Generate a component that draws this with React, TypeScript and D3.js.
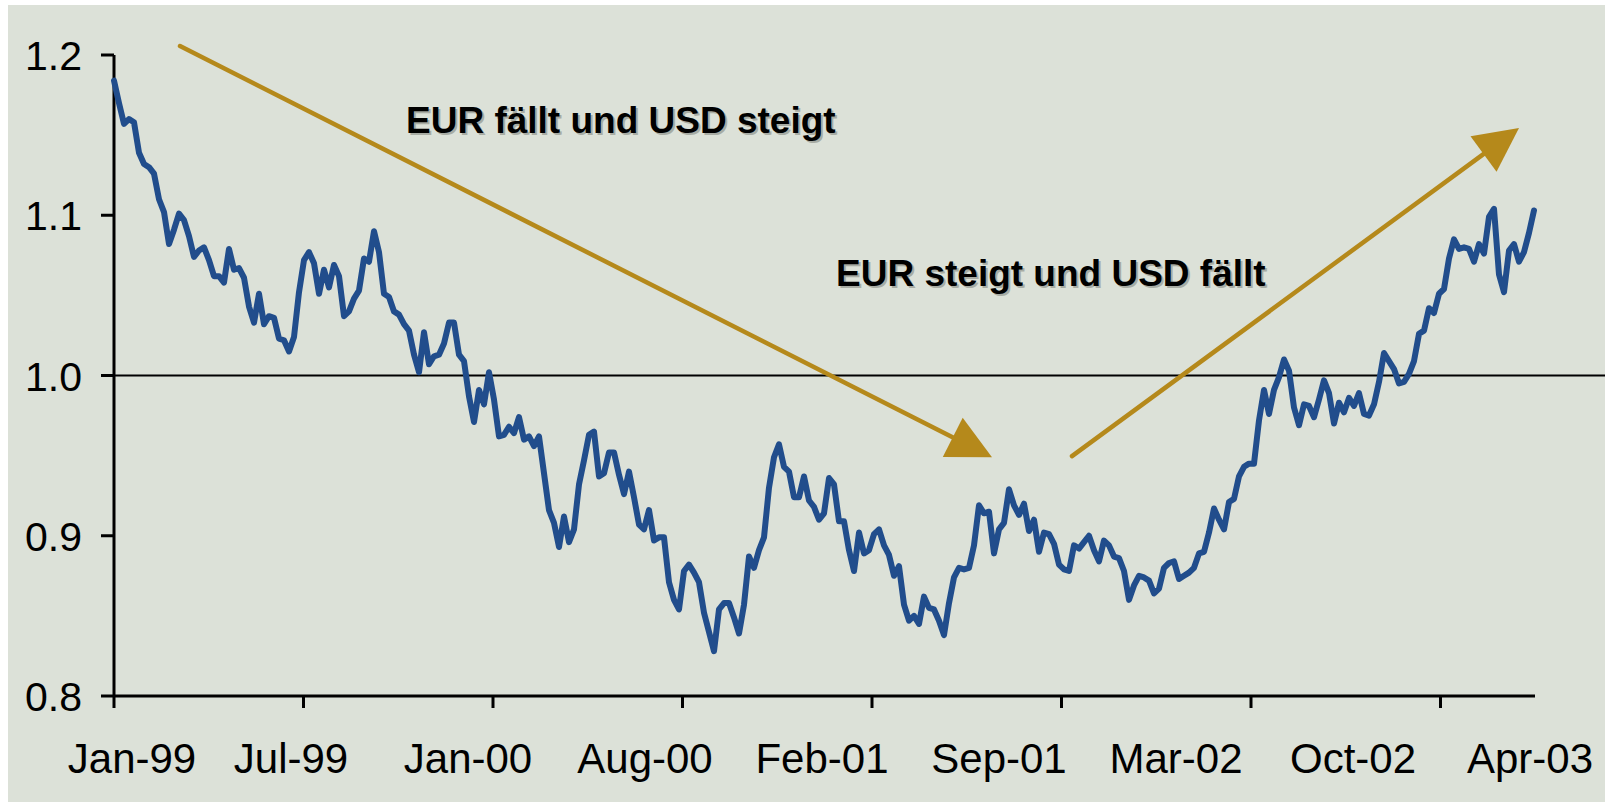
import React from 'react';
import * as d3 from 'd3';

// EUR/USD, sampled evenly from Jan-99 to Apr-03
const rate = [
  1.184, 1.170, 1.157, 1.160, 1.158, 1.139, 1.132, 1.130, 1.126, 1.110,
  1.102, 1.082, 1.091, 1.101, 1.097, 1.087, 1.074, 1.078, 1.080, 1.072,
  1.062, 1.062, 1.058, 1.079, 1.066, 1.067, 1.061, 1.043, 1.033, 1.051,
  1.032, 1.037, 1.036, 1.023, 1.022, 1.015, 1.024, 1.052, 1.072, 1.077,
  1.070, 1.051, 1.066, 1.055, 1.069, 1.062, 1.037, 1.040,
  1.048, 1.053, 1.073, 1.071, 1.090, 1.077, 1.051, 1.049, 1.040, 1.038,
  1.032, 1.028, 1.013, 1.002, 1.027, 1.007, 1.012, 1.013, 1.020, 1.033,
  1.033, 1.013, 1.009, 0.987, 0.971, 0.991, 0.982, 1.002, 0.985, 0.962,
  0.963, 0.968, 0.964, 0.974, 0.960, 0.962, 0.956, 0.962, 0.939, 0.916,
  0.908, 0.893, 0.912, 0.896, 0.904, 0.932, 0.947, 0.963,
  0.965, 0.937, 0.939, 0.952, 0.952, 0.938, 0.926, 0.940, 0.924, 0.907,
  0.904, 0.916, 0.897, 0.899, 0.899, 0.871, 0.860, 0.854, 0.878, 0.882,
  0.877, 0.871, 0.852, 0.840, 0.828, 0.854, 0.858, 0.858, 0.849, 0.839,
  0.857, 0.887, 0.880, 0.891, 0.899, 0.930, 0.949, 0.957, 0.943, 0.940,
  0.924, 0.924, 0.937, 0.922, 0.918, 0.910, 0.914, 0.936,
  0.932, 0.909, 0.909, 0.891, 0.878, 0.902, 0.889, 0.891, 0.901, 0.904,
  0.894, 0.888, 0.875, 0.881, 0.857, 0.847, 0.850, 0.845, 0.862, 0.855,
  0.854, 0.847, 0.838, 0.858, 0.874, 0.880, 0.879, 0.880, 0.894, 0.919,
  0.914, 0.915, 0.889, 0.904, 0.908, 0.929, 0.919, 0.913, 0.920, 0.903,
  0.910, 0.890, 0.902, 0.901, 0.895, 0.882, 0.879,
  0.878, 0.894, 0.892, 0.896, 0.900, 0.891, 0.884, 0.897, 0.894, 0.887,
  0.886, 0.878, 0.860, 0.869, 0.875, 0.874, 0.872, 0.864, 0.867, 0.880,
  0.883, 0.884, 0.873, 0.875, 0.877, 0.880, 0.889, 0.890, 0.902, 0.917,
  0.910, 0.904, 0.921, 0.923, 0.937, 0.943, 0.945, 0.945, 0.972, 0.991,
  0.976, 0.991, 0.999, 1.010, 1.003, 0.980, 0.969, 0.982,
  0.981, 0.974, 0.985, 0.997, 0.989, 0.970, 0.983, 0.977, 0.986, 0.981,
  0.989, 0.976, 0.975, 0.982, 0.996, 1.014, 1.009, 1.004, 0.995, 0.996,
  1.001, 1.009, 1.026, 1.028, 1.042, 1.039, 1.051, 1.054, 1.073, 1.085,
  1.079, 1.080, 1.079, 1.071, 1.082, 1.076, 1.099, 1.104, 1.063, 1.052,
  1.078, 1.082, 1.071, 1.077, 1.089, 1.103,
];

const yTicks = [0.8, 0.9, 1.0, 1.1, 1.2];
const xLabels = ['Jan-99', 'Jul-99', 'Jan-00', 'Aug-00', 'Feb-01', 'Sep-01', 'Mar-02', 'Oct-02', 'Apr-03'];
const tickStep = 37.9; // samples between x tick marks
const refValue = 1.0;

// arrows: [fromIndex, fromValue, toIndex, toValue]
const arrows = [
  [13.2, 1.2056, 175.6, 0.949],
  [191.6, 0.9497, 281, 1.1544],
];
const notes = [
  { text: 'EUR fällt und USD steigt', i: 58.4, v: 1.1513 },
  { text: 'EUR steigt und USD fällt', i: 144.4, v: 1.0558 },
];

const W = 1605, H = 802;
const gold = '#b5891b';
const blue = '#214d8c';
const font = 'Liberation Sans, Arial, sans-serif';

export default function App() {
  const x = d3.scaleLinear().domain([0, rate.length - 1]).range([114, 1534]);
  const y = d3.scaleLinear().domain([0.8, 1.2]).range([696, 55]);
  const labelX = d3.scalePoint<string>().domain(xLabels).range([114, 1530]);

  const line = d3.line<number>()
    .x((d, i) => x(i))
    .y(d => y(d));

  const xTickIdx = d3.range(0, rate.length, tickStep);

  const arrowShapes = arrows.map(([i0, v0, i1, v1]) => {
    const sx = x(i0), sy = y(v0), tx = x(i1), ty = y(v1);
    const len = Math.hypot(tx - sx, ty - sy);
    const ux = (tx - sx) / len, uy = (ty - sy) / len;
    const L = 44, hw = 22;
    const bx = tx - L * ux, by = ty - L * uy;
    const pts = [
      [tx, ty],
      [bx - hw * uy, by + hw * ux],
      [bx + hw * uy, by - hw * ux],
    ];
    return { sx, sy, bx: bx + 2 * ux, by: by + 2 * uy, pts };
  });

  return (
    <div style={{ position: 'absolute', left: 0, top: 0 }}>
      <svg width={W} height={H} style={{ display: 'block' }}>
        <rect x={0} y={0} width={W} height={H} fill="#fff" />
        <rect x={8} y={5} width={W - 8} height={H - 5} fill="#dce1d8" />

        {/* reference line at 1.0 */}
        <line x1={101} x2={W} y1={y(refValue)} y2={y(refValue)} stroke="#000" strokeWidth={2} />

        {/* axes */}
        <line x1={114} x2={114} y1={y(1.2)} y2={y(0.8)} stroke="#000" strokeWidth={3} />
        <line x1={114} x2={1535} y1={y(0.8)} y2={y(0.8)} stroke="#000" strokeWidth={3} />
        {yTicks.map(t => (
          <g key={t}>
            <line x1={101} x2={114} y1={y(t)} y2={y(t)} stroke="#000" strokeWidth={3} />
            <text x={82} y={y(t) + 15} textAnchor="end" fontFamily={font} fontSize={41} fill="#000">
              {t.toFixed(1)}
            </text>
          </g>
        ))}
        {xTickIdx.map(i => (
          <line key={i} x1={x(i)} x2={x(i)} y1={y(0.8)} y2={y(0.8) + 12} stroke="#000" strokeWidth={3} />
        ))}
        {xLabels.map((l, k) => (
          <text key={l} x={(labelX(l) ?? 0) + (k === 0 ? 18 : 0)} y={773} textAnchor="middle"
            fontFamily={font} fontSize={42} fill="#000">{l}</text>
        ))}

        {/* arrows */}
        {arrowShapes.map((a, k) => (
          <g key={k}>
            <line x1={a.sx} y1={a.sy} x2={a.bx} y2={a.by} stroke={gold} strokeWidth={4.5} strokeLinecap="round" />
            <polygon points={a.pts.map(p => p.join(',')).join(' ')} fill={gold} />
          </g>
        ))}

        {/* series */}
        <path d={line(rate) ?? ''} fill="none" stroke={blue} strokeWidth={6} strokeLinejoin="round" strokeLinecap="round" />

        {/* notes */}
        {notes.map(n => (
          <g key={n.text} fontFamily={font} fontSize={37} fontWeight="bold">
            <text x={x(n.i) + 2} y={y(n.v) + 2} fill="#a8aca4">{n.text}</text>
            <text x={x(n.i)} y={y(n.v)} fill="#000">{n.text}</text>
          </g>
        ))}
      </svg>
    </div>
  );
}
